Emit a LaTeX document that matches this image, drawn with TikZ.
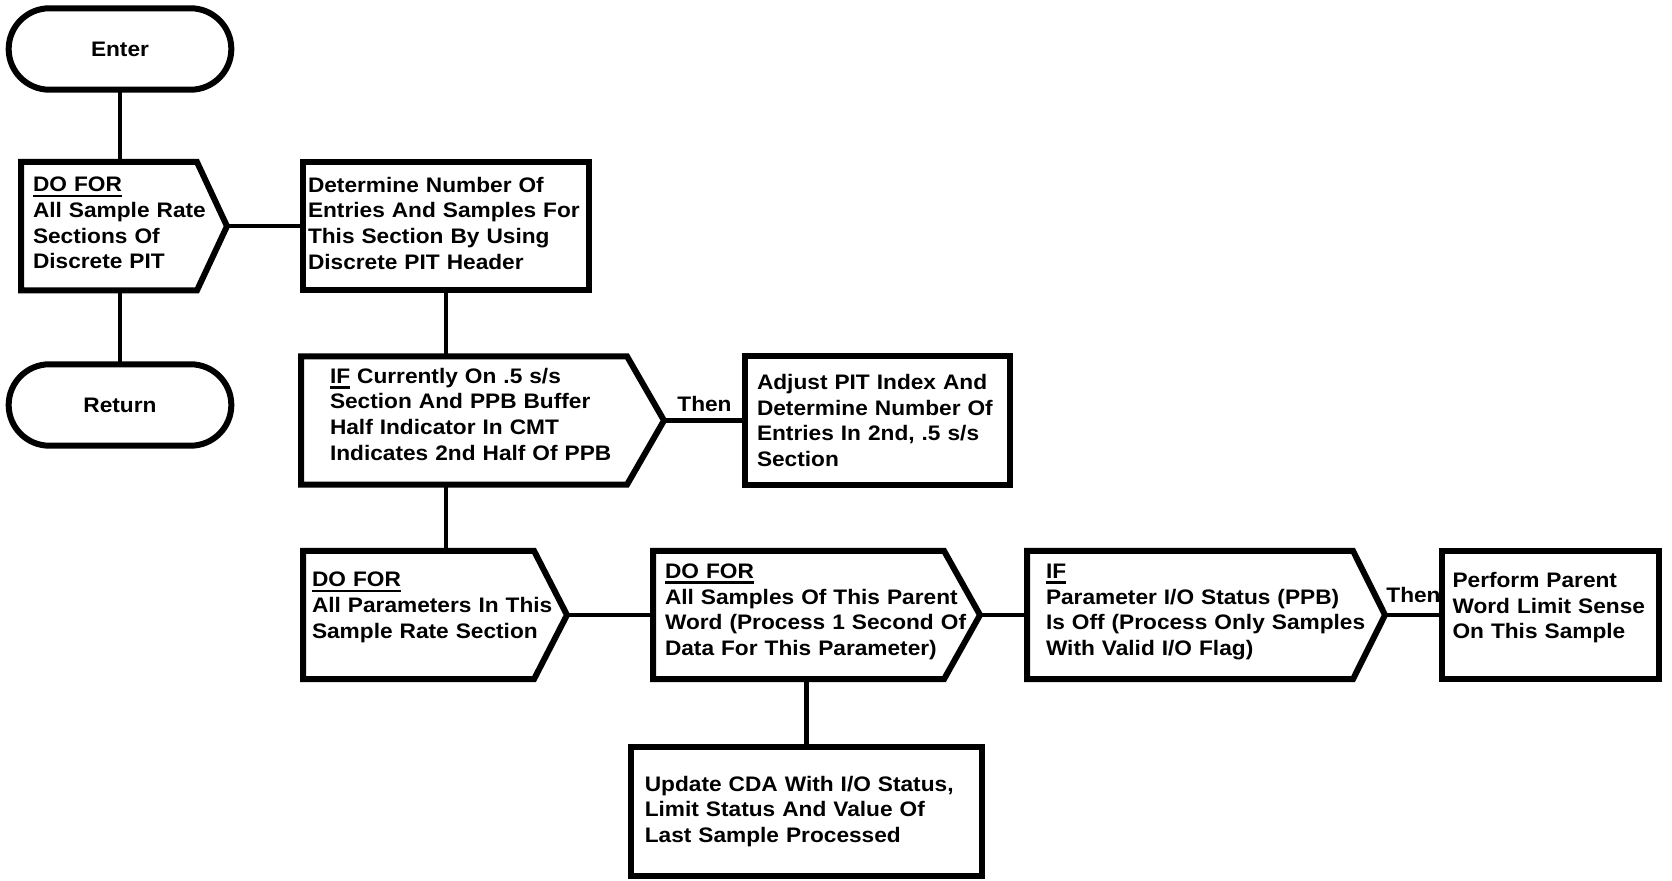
\documentclass[tikz,border=0pt]{standalone}
\usepackage{fontspec}
\setmainfont{Liberation Sans}[FakeStretch=1.08]
\usepackage{tikz}
\usetikzlibrary{positioning,shapes.misc}
\newcommand{\kw}[1]{\setbox0\hbox{#1}\rlap{\rule[-2.6pt]{\wd0}{1.2pt}}\box0\relax}

\begin{document}
\begin{tikzpicture}[
    node distance=30pt,
    every node/.style={font=\fontsize{10.5}{12.8}\selectfont\bfseries},
    term/.style={draw, rounded rectangle, line width=3pt, outer sep=0pt, minimum width=118pt, minimum height=40.7pt},
    proc/.style={draw, line width=3pt, outer sep=0pt, minimum height=64.2pt, inner xsep=0pt, align=left},
    pent/.style={proc, draw=none},
    outline/.style={line width=3pt},
    link/.style={line width=2.2pt},
    then/.style={above, inner sep=3.5pt},
  ]
    \useasboundingbox (0,0) rectangle (836pt,-440.5pt);
    \node[term] (enter) at (60pt,-24.5pt) {Enter};
    \node[pent, below=36.15pt of enter, xshift=2pt, minimum width=103pt, text width=91pt, text depth=41.6pt] (doall)
      {\kw{DO FOR}\\All Sample Rate\\Sections Of\\Discrete PIT};
    \node[term, below=36.95pt of doall, xshift=-2pt] (ret) {Return};
    \node[proc, right=38pt of doall, minimum width=143pt, text width=138pt, text depth=41.6pt] (detnum)
      {Determine Number Of\\Entries And Samples For\\This Section By Using\\Discrete PIT Header};
    \node[pent, below=32.95pt of detnum.south west, anchor=north west, xshift=-1pt, minimum width=181.5pt, text width=152.5pt, text depth=44.8pt] (ifhalf)
      {\kw{IF} Currently On .5 s/s\\Section And PPB Buffer\\Half Indicator In CMT\\Indicates 2nd Half Of PPB};
    \node[proc, right=40.5pt of ifhalf, minimum width=132.5pt, text width=120.5pt] (adjpit)
      {Adjust PIT Index And\\Determine Number Of\\Entries In 2nd, .5 s/s\\Section};
    \node[pent, below=33.05pt of ifhalf.south west, anchor=north west, xshift=1pt, minimum width=132pt, text width=123pt, text depth=35.4pt] (dopar)
      {\kw{DO FOR}\\All Parameters In This\\Sample Rate Section};
    \node[pent, right=43pt of dopar, minimum width=163.5pt, text width=151.5pt, text depth=43.8pt] (dosamp)
      {\kw{DO FOR}\\All Samples Of This Parent\\Word (Process 1 Second Of\\Data For This Parameter)};
    \node[pent, right=23.5pt of dosamp, minimum width=179pt, text width=160pt, text depth=43.8pt] (ifstat)
      {\kw{IF}\\Parameter I/O Status (PPB)\\Is Off (Process Only Samples\\With Valid I/O Flag)};
    \node[proc, right=28.5pt of ifstat, minimum width=108.5pt, text width=98pt, text depth=35pt] (limsense)
      {Perform Parent\\Word Limit Sense\\On This Sample};
    \node[proc, below=34.05pt of dosamp, xshift=-5.1pt, minimum width=175.5pt, text width=161.5pt] (updcda)
      {Update CDA With I/O Status,\\Limit Status And Value Of\\Last Sample Processed};

    \foreach \n/\dep in {doall/15pt, ifhalf/18.5pt, dopar/16.5pt, dosamp/18pt, ifstat/16pt}
      \draw[outline] (\n.north west) -- ([xshift=-\dep]\n.north east) -- (\n.east)
        -- ([xshift=-\dep]\n.south east) -- (\n.south west) -- cycle;

    \draw[link] (enter.south) -- (enter.south |- doall.north);
    \draw[link] (ret.north) -- (ret.north |- doall.south);
    \draw[link] (doall.east) -- (detnum.west);
    \draw[link] (detnum.south) -- (detnum.south |- ifhalf.north);
    \draw[link] (ifhalf.east) -- node[then] {Then} (adjpit.west);
    \draw[link] (detnum.south |- ifhalf.south) -- (detnum.south |- dopar.north);
    \draw[link] (dopar.east) -- (dosamp.west);
    \draw[link] (dosamp.east) -- (ifstat.west);
    \draw[link] (ifstat.east) -- node[then, inner sep=5pt] {Then} (limsense.west);
    \draw[link] (updcda.north) -- (updcda.north |- dosamp.south);
  \end{tikzpicture}
\end{document}
